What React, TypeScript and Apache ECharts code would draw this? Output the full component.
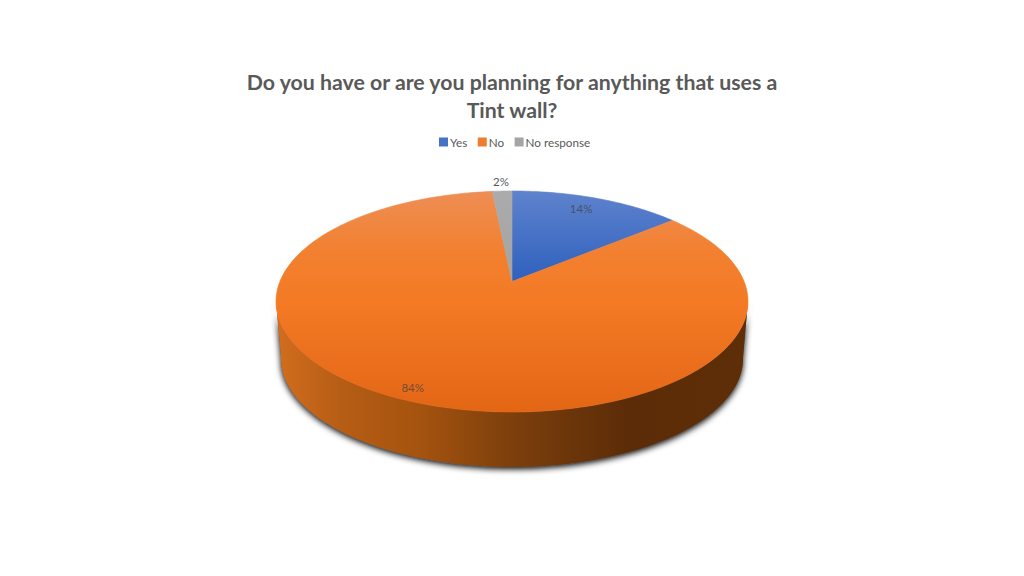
import React, { useEffect, useRef } from "react";
import * as echarts from "echarts";

const titleLines = ["Do you have or are you planning for anything that uses a", "Tint wall?"];
const categories = ["Yes", "No", "No response"];
const shares = [14, 84.4, 1.6];
const legendColors = ["#4472C4", "#ED7D31", "#A5A5A5"];

const CX = 512;
const TOP = { y0: 281.5, a: 232.1, b: 106.9, k: 0.181 };
const BOTTOM = { y0: 339.3, a: 227.2, b: 104.6, k: 0.181 };
const LABEL_RADIUS = [0.845, 0.913, 1.134];
const LABEL_TURN = [-1.5, 1.1, 0];

const topFills = [
  [[0, "#5F83CD"], [1, "#2E60BD"]],
  [[0, "#EE8E55"], [0.28, "#F2802F"], [0.5, "#F47A25"], [1, "#E36615"]],
  [[0, "#ABABAB"], [1, "#A3A3A3"]],
];
const wallStops = [
  [0, "#D06C1D"],
  [0.13, "#B65D15"],
  [0.3, "#A5530F"],
  [0.48, "#80410C"],
  [0.62, "#6C360A"],
  [0.75, "#5C2C08"],
  [1, "#5E2E08"],
];

type Plane = typeof TOP;
const project = (p: Plane, deg: number, r = 1): number[] => {
  const t = (deg * Math.PI) / 180;
  const u = r * Math.sin(t);
  const v = -r * Math.cos(t);
  const w = 1 - p.k * v;
  return [CX + (p.a * u) / w, p.y0 + (p.b * v) / w];
};

const arc = (p: Plane, from: number, to: number): number[][] => {
  const n = Math.max(2, Math.ceil(Math.abs(to - from)));
  const pts: number[][] = [];
  for (let i = 0; i <= n; i++) pts.push(project(p, from + ((to - from) * i) / n));
  return pts;
};

const total = shares.reduce((s, v) => s + v, 0);
const startDeg = (i: number) => (shares.slice(0, i).reduce((s, v) => s + v, 0) / total) * 360;

const makeRender = (index: number) => (_params: any, api: any) => {
  const value = api.value(0) as number;
  const from = startDeg(index);
  const to = from + (value / total) * 360;
  const children: any[] = [];

  // the rim's front half is the only part of the side wall that is seen
  const lo = Math.max(from, 100);
  const hi = Math.min(to, 260);
  if (hi > lo) {
    const points = [...arc(TOP, lo, hi), ...arc(BOTTOM, hi, lo)];
    children.push({
      type: "polygon",
      shape: { points },
      style: { fill: "#555555", shadowBlur: 6, shadowColor: "rgba(0,0,0,1)", shadowOffsetY: 2 },
    });
    children.push({
      type: "polygon",
      shape: { points },
      style: {
        fill: new echarts.graphic.LinearGradient(CX - 231, 0, CX + 231, 0,
          wallStops.map(([offset, color]) => ({ offset, color })) as any, true),
      },
    });
  }

  const topGradient = () =>
    new echarts.graphic.LinearGradient(0, 191, 0, index === 1 ? 412 : 282,
      (topFills[index] as any[]).map(([offset, color]) => ({ offset, color })), true);
  children.push({
    type: "polygon",
    shape: { points: [[CX, TOP.y0], ...arc(TOP, from, to)] },
    style: { fill: topGradient(), stroke: topGradient(), lineWidth: 0.6 },
  });

  const [lx, ly] = project(TOP, (from + to) / 2 + LABEL_TURN[index], LABEL_RADIUS[index]);
  children.push({
    type: "text",
    x: lx,
    y: ly,
    z2: 10,
    style: {
      text: `${Math.round(value)}%`,
      fill: index === 2 ? "#595959" : "rgba(64,64,64,0.72)",
      font: "11.5px Lato",
      align: "center",
      verticalAlign: "middle",
    },
  });
  return { type: "group", children };
};

export default function App() {
  const ref = useRef<HTMLDivElement>(null);
  useEffect(() => {
    const chart = echarts.init(ref.current!, undefined, { renderer: "svg" });
    chart.setOption({
      animation: false,
      backgroundColor: "#ffffff",
      title: {
        text: titleLines.join("\n"),
        left: 507,
        top: 63,
        textAlign: "center",
        textStyle: { fontFamily: "Lato", fontWeight: "bold", fontSize: 21.3, lineHeight: 28, color: "#595959" },
      },
      legend: {
        top: 131,
        left: 434,
        itemWidth: 9,
        itemHeight: 9,
        itemGap: 10.5,
        icon: "rect",
        selectedMode: false,
        textStyle: { fontFamily: "Lato", fontSize: 11.7, color: "#595959", padding: [0, 0, 0, -3] },
        data: categories,
      },
      series: categories.map((name, i) => ({
        type: "custom",
        name,
        coordinateSystem: "none",
        silent: true,
        itemStyle: { color: legendColors[i] },
        data: [[shares[i]]],
        renderItem: makeRender(i),
      })),
    });
    return () => chart.dispose();
  }, []);
  return <div ref={ref} style={{ position: "absolute", left: 0, top: 0, width: 1024, height: 576 }} />;
}
